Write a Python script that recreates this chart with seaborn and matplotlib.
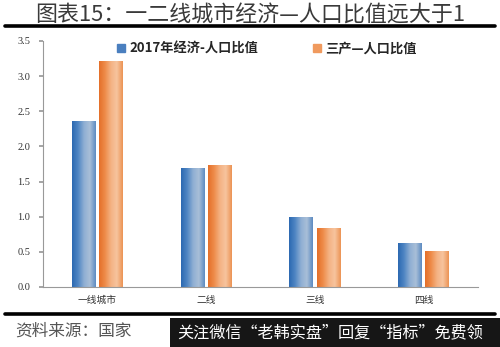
import numpy as np
import pandas as pd
import matplotlib
matplotlib.use("Agg")
import matplotlib.pyplot as plt
import seaborn as sns
from matplotlib.colors import LinearSegmentedColormap
from matplotlib.patches import Rectangle
from matplotlib.lines import Line2D

# Data
categories = ["一线城市", "二线", "三线", "四线"]
series_names = ["2017年经济-人口比值", "三产—人口比值"]
econ_ratio = [2.36, 1.69, 1.00, 0.62]
tertiary_ratio = [3.21, 1.74, 0.84, 0.51]
y_ticks = [0.0, 0.5, 1.0, 1.5, 2.0, 2.5, 3.0, 3.5]

df = pd.DataFrame({
    "city": categories * 2,
    "series": [series_names[0]] * len(categories) + [series_names[1]] * len(categories),
    "value": econ_ratio + tertiary_ratio,
})

sns.set_theme(style="white")
plt.rcParams["font.family"] = ["Noto Sans CJK SC", "DejaVu Sans"]

fig = plt.figure(figsize=(5.0, 3.47), dpi=100)
ax = fig.add_axes([0.086, 0.173, 0.870, 0.709])

blue = "#3A78BE"
orange = "#EE8236"
sns.barplot(data=df, x="city", y="value", hue="series", order=categories,
            hue_order=series_names, palette=[blue, orange], width=0.5, gap=0.12,
            ax=ax, legend=False, saturation=1)

# Shaded fill for each bar
cmap_blue = LinearSegmentedColormap.from_list(
    "b", ["#2C69B2", "#4F86C3", "#8EAED3", "#A9BFD8", "#5E8CC2"])
cmap_orange = LinearSegmentedColormap.from_list(
    "o", ["#E5702A", "#EE8C4A", "#F4B283", "#F7C49E", "#EC9455"])
grad = np.linspace(0, 1, 64).reshape(1, -1)
n = len(categories)
for i, bar in enumerate(ax.patches[:2 * n]):
    cmap = cmap_blue if i < n else cmap_orange
    x0, y0 = bar.get_x(), bar.get_y()
    w, h = bar.get_width(), bar.get_height()
    bar.set_facecolor("none")
    bar.set_edgecolor("none")
    im = ax.imshow(grad, cmap=cmap, aspect="auto",
                   extent=[x0, x0 + w, y0, y0 + h], zorder=2)
    im.set_clip_path(bar)

ax.set_xlim(-0.5, n - 0.5)
ax.set_ylim(0, 3.5)
ax.set_yticks(y_ticks)
ax.set_yticklabels([f"{t:.1f}" for t in y_ticks], family="Liberation Serif",
                   fontsize=7.5, color="#333333")
ax.set_xticks(range(n))
ax.set_xticklabels(categories, fontsize=7, color="#333333")
ax.set_xticks(np.arange(-0.5, n, 1.0), minor=True)
ax.tick_params(axis="x", which="major", length=0, pad=6)
ax.tick_params(axis="x", which="minor", length=3, direction="out", color="#999999")
ax.tick_params(axis="y", length=3, direction="out", color="#999999", pad=6, left=True)
ax.set_xlabel("")
ax.set_ylabel("")
for s in ["top", "right"]:
    ax.spines[s].set_visible(False)
for s in ["left", "bottom"]:
    ax.spines[s].set_color("#999999")
    ax.spines[s].set_linewidth(0.8)

handles = [Rectangle((0, 0), 1, 1, color="#4A7FBF"), Rectangle((0, 0), 1, 1, color="#F09A5E")]
ax.legend(handles, series_names, loc="upper center", bbox_to_anchor=(0.515, 1.045),
          ncol=2, frameon=False, handlelength=0.6, handleheight=0.6,
          handletextpad=0.3, columnspacing=4.2,
          prop={"family": ["Noto Sans CJK SC", "DejaVu Sans"], "weight": "bold", "size": 9.5})

# Title and rules
fig.text(0.07, 0.955, "图表15：一二线城市经济—人口比值远大于1", ha="left", va="center",
         fontsize=15.8, color="#3a3a3a")
fig.add_artist(Line2D([0.01, 0.99], [0.924, 0.924], color="black", lw=2.6,
                      transform=fig.transFigure))
fig.add_artist(Line2D([0.01, 0.99], [0.095, 0.095], color="black", lw=2.6,
                      transform=fig.transFigure))

fig.text(0.03, 0.045, "资料来源：国家", ha="left", va="center",
         fontsize=12, color="#555555", style="italic")
fig.add_artist(Rectangle((0.34, 0.0), 0.66, 0.083, transform=fig.transFigure,
                         facecolor="#161616", edgecolor="none", zorder=5))
fig.text(0.354, 0.04, "关注微信“老韩实盘”回复“指标”免费领", ha="left", va="center",
         fontsize=11.6, color="white", zorder=6)

fig.savefig("out.png", dpi=100)
